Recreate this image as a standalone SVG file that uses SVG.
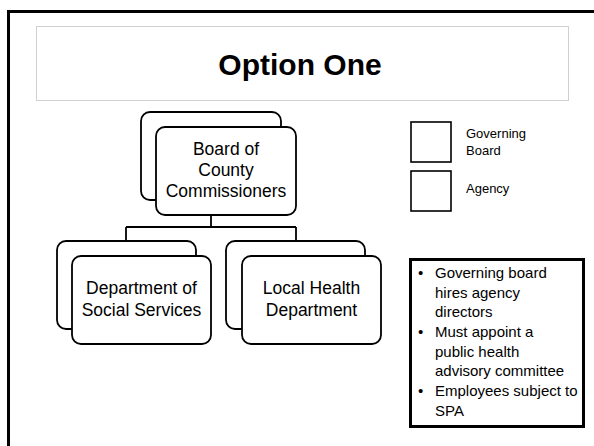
<svg xmlns="http://www.w3.org/2000/svg" width="594" height="446" viewBox="0 0 594 446">
<style>
.box{fill:#fff;stroke:#000;stroke-width:1.8}
.lg{fill:#fff;stroke:#000;stroke-width:1.6}
.t{font-family:"Liberation Sans",Arial,sans-serif;font-size:17.5px;fill:#000;text-anchor:middle}
.s{font-family:"Liberation Sans",Arial,sans-serif;font-size:13px;fill:#000}
.n{font-family:"Liberation Sans",Arial,sans-serif;font-size:15px;fill:#000}
.con{fill:none;stroke:#000;stroke-width:1.8}
</style>
<rect x="0" y="0" width="594" height="446" fill="#fff"/>
<rect x="8.5" y="11.5" width="620" height="470" fill="none" stroke="#000" stroke-width="3"/>
<g id="title">
<rect x="36.5" y="26.5" width="532" height="74" fill="#fff" stroke="#d0d0d0" stroke-width="1"/>
<text x="300" y="75" font-family="'Liberation Sans',Arial,sans-serif" font-size="30" font-weight="bold" text-anchor="middle">Option One</text>
</g>
<g id="connectors">
<path class="con" d="M211 200V227M126 227H296M126 227V241M296 227V241"/>
</g>
<g id="board">
<rect class="box" x="141" y="112" width="140" height="88" rx="9"/>
<rect class="box" x="156" y="127" width="140" height="88" rx="9"/>
<text class="t" x="226" y="155">Board of</text>
<text class="t" x="226" y="176">County</text>
<text class="t" x="226" y="197">Commissioners</text>
</g>
<g id="dss">
<rect class="box" x="57" y="241" width="139" height="88" rx="9"/>
<rect class="box" x="72" y="256" width="139" height="88" rx="9"/>
<text class="t" x="141.5" y="294">Department of</text>
<text class="t" x="141.5" y="316">Social Services</text>
</g>
<g id="lhd">
<rect class="box" x="226" y="241" width="139" height="88" rx="9"/>
<rect class="box" x="242" y="256" width="139" height="88" rx="9"/>
<text class="t" x="311.5" y="294">Local Health</text>
<text class="t" x="311.5" y="316">Department</text>
</g>
<g id="legend-board">
<rect class="lg" x="411" y="122" width="40" height="40"/>
<text class="s" x="466" y="138">Governing</text>
<text class="s" x="466" y="155">Board</text>
</g>
<g id="legend-agency">
<rect class="lg" x="411" y="171" width="40" height="40"/>
<text class="s" x="466" y="193">Agency</text>
</g>
<g id="notes">
<rect x="410.5" y="259.5" width="173" height="167" fill="#fff" stroke="#000" stroke-width="3"/>
<g class="n">
<text x="418" y="278">•</text>
<text x="435" y="278">Governing board</text>
<text x="435" y="297.7">hires agency</text>
<text x="435" y="317.4">directors</text>
<text x="418" y="337">•</text>
<text x="435" y="337">Must appoint a</text>
<text x="435" y="356.7">public health</text>
<text x="435" y="376.4">advisory committee</text>
<text x="418" y="396">•</text>
<text x="435" y="396">Employees subject to</text>
<text x="435" y="415.7">SPA</text>
</g>
</g>
</svg>
